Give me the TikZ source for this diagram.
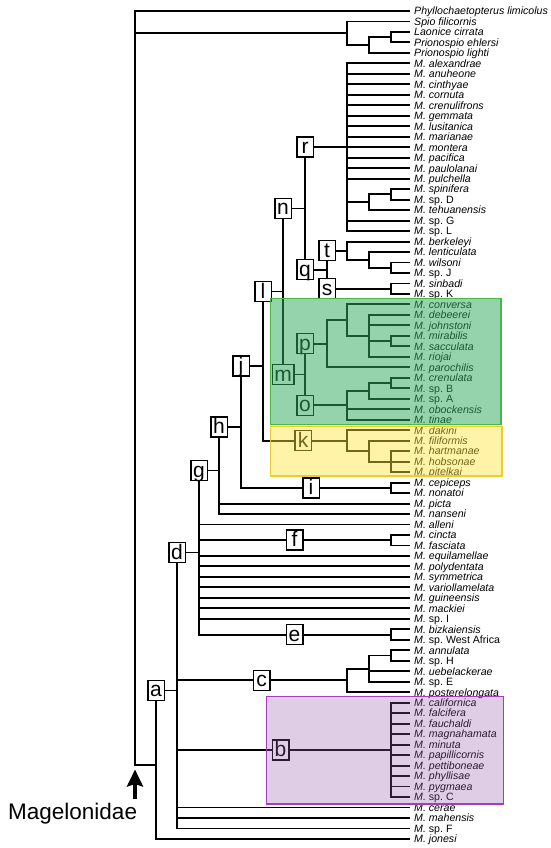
\documentclass[tikz,border=0pt]{standalone}
\usepackage{fontspec}
\setmainfont{Liberation Sans}
\usetikzlibrary{calc,arrows.meta}
\definecolor{grfill}{RGB}{50,170,95}
\definecolor{grline}{RGB}{70,185,70}
\definecolor{yefill}{RGB}{255,228,60}
\definecolor{yeline}{RGB}{235,205,50}
\definecolor{pufill}{RGB}{150,90,170}
\definecolor{puline}{RGB}{165,60,185}
\newcommand\Mi[1]{\textit{M. #1}}
\newcommand\Ms[1]{\textit{M.} sp.~#1}
\newcommand\cladeN[4]{%
  \draw[br] (#1 |- #2) -- (#1 |- #3);
  \foreach \c in {#4}{\draw[br] (#1 |- \c) -- (\c);}%
}
\begin{document}
\begin{tikzpicture}[x=1pt,y=-1pt,
  br/.style={line width=1.9pt, line cap=rect},
  leaf/.style={anchor=base west, inner sep=0pt, font=\fontsize{10.6}{11}\selectfont},
  lbl/.style={draw, fill=white, line width=1.5pt, font=\fontsize{21}{21}\selectfont,
    inner xsep=2pt, inner ysep=1pt, text height=15.5pt, text depth=2.5pt,
    minimum width=16.5pt, minimum height=20pt}]
\useasboundingbox (0,0) rectangle (550,848);

% leaves
\foreach \i/\t in {
1/{\textit{Phyllochaetopterus limicolus}},
2/{\textit{Spio filicornis}},
3/{\textit{Laonice cirrata}},
4/{\textit{Prionospio ehlersi}},
5/{\textit{Prionospio lighti}},
6/\Mi{alexandrae},
7/\Mi{anuheone},
8/\Mi{cinthyae},
9/\Mi{cornuta},
10/\Mi{crenulifrons},
11/\Mi{gemmata},
12/\Mi{lusitanica},
13/\Mi{marianae},
14/\Mi{montera},
15/\Mi{pacifica},
16/\Mi{paulolanai},
17/\Mi{pulchella},
18/\Mi{spinifera},
19/\Ms{D},
20/\Mi{tehuanensis},
21/\Ms{G},
22/\Ms{L},
23/\Mi{berkeleyi},
24/\Mi{lenticulata},
25/\Mi{wilsoni},
26/\Ms{J},
27/\Mi{sinbadi},
28/\Ms{K},
29/\Mi{conversa},
30/\Mi{debeerei},
31/\Mi{johnstoni},
32/\Mi{mirabilis},
33/\Mi{sacculata},
34/\Mi{riojai},
35/\Mi{parochilis},
36/\Mi{crenulata},
37/\Ms{B},
38/\Ms{A},
39/\Mi{obockensis},
40/\Mi{tinae},
41/\Mi{dakini},
42/\Mi{filiformis},
43/\Mi{hartmanae},
44/\Mi{hobsonae},
45/\Mi{pitelkai},
46/\Mi{cepiceps},
47/\Mi{nonatoi},
48/\Mi{picta},
49/\Mi{nanseni},
50/\Mi{alleni},
51/\Mi{cincta},
52/\Mi{fasciata},
53/\Mi{equilamellae},
54/\Mi{polydentata},
55/\Mi{symmetrica},
56/\Mi{variollamelata},
57/\Mi{guineensis},
58/\Mi{mackiei},
59/\Ms{I},
60/\Mi{bizkaiensis},
61/\Ms{West Africa},
62/\Mi{annulata},
63/\Ms{H},
64/\Mi{uebelackerae},
65/\Ms{E},
66/\Mi{posterelongata},
67/\Mi{californica},
68/\Mi{falcifera},
69/\Mi{fauchaldi},
70/\Mi{magnahamata},
71/\Mi{minuta},
72/\Mi{papillicornis},
73/\Mi{pettiboneae},
74/\Mi{phyllisae},
75/\Mi{pygmaea},
76/\Ms{C},
77/\Mi{cerae},
78/\Mi{mahensis},
79/\Ms{F},
80/\Mi{jonesi}}{
  \pgfmathsetmacro\yy{11+(\i-1)*10.48}
  \coordinate (L\i) at (409,\yy);
  \node[leaf] (T\i) at (414,\yy+3.8) {\t};
}

% internal nodes
\coordinate (S3) at (391,37.20);
\coordinate (S2) at (369,45.06);
\coordinate (S1) at (347,33.27);
\coordinate (R4) at (391,194.40);
\coordinate (R3) at (369,202.26);
\coordinate (Nr) at (347,147.24);
\coordinate (T3) at (391,267.76);
\coordinate (T2) at (369,259.90);
\coordinate (Nt) at (347,250.73);
\coordinate (Ns) at (391,288.72);
\coordinate (Nq) at (327,269.73);
\coordinate (Nn) at (305,208.48);
\coordinate (P4) at (391,341.12);
\coordinate (P3) at (369,335.88);
\coordinate (P2) at (347,320.16);
\coordinate (Np) at (327,343.74);
\coordinate (O3) at (391,383.04);
\coordinate (O2) at (369,390.90);
\coordinate (No) at (347,405.31);
\coordinate (Nm) at (305,374.53);
\coordinate (Nl) at (283,291.50);
\coordinate (K3) at (391,461.64);
\coordinate (K2) at (369,451.16);
\coordinate (Nk) at (347,440.68);
\coordinate (Nj) at (263,366.09);
\coordinate (Ni) at (391,487.84);
\coordinate (Nh) at (241,426.97);
\coordinate (Ng) at (219,470.50);
\coordinate (Nf) at (391,540.24);
\coordinate (Ne) at (391,634.56);
\coordinate (Nd) at (199,552.53);
\coordinate (C3) at (391,655.52);
\coordinate (C2) at (369,668.62);
\coordinate (Nc) at (347,680.41);
\coordinate (Nb) at (391,749.84);
\coordinate (NA) at (177,690.49);
\coordinate (Na) at (156,764.70);
\coordinate (Nroot) at (135,387.85);

% branches
\cladeN{S3}{L3}{L4}{L3,L4}
\cladeN{S2}{S3}{L5}{S3,L5}
\cladeN{S1}{L2}{S2}{L2,S2}
\cladeN{R4}{L18}{L19}{L18,L19}
\cladeN{R3}{R4}{L20}{R4,L20}
\cladeN{Nr}{L6}{L22}{L6,L7,L8,L9,L10,L11,L12,L13,L14,L15,L16,L17,R3,L21,L22}
\cladeN{T3}{L25}{L26}{L25,L26}
\cladeN{T2}{L24}{T3}{L24,T3}
\cladeN{Nt}{L23}{T2}{L23,T2}
\cladeN{Ns}{L27}{L28}{L27,L28}
\cladeN{Nq}{Nt}{Ns}{Nt,Ns}
\cladeN{Nn}{Nr}{Nq}{Nr,Nq}
\cladeN{P4}{L32}{L33}{L32,L33}
\cladeN{P3}{L30}{L34}{L30,L31,P4,L34}
\cladeN{P2}{L29}{P3}{L29,P3}
\cladeN{Np}{P2}{L35}{P2,L35}
\cladeN{O3}{L36}{L37}{L36,L37}
\cladeN{O2}{O3}{L38}{O3,L38}
\cladeN{No}{O2}{L40}{O2,L39,L40}
\cladeN{Nm}{Np}{No}{Np,No}
\cladeN{Nl}{Nn}{Nm}{Nn,Nm}
\cladeN{K3}{L43}{L45}{L43,L44,L45}
\cladeN{K2}{L42}{K3}{L42,K3}
\cladeN{Nk}{L41}{K2}{L41,K2}
\cladeN{Nj}{Nl}{Nk}{Nl,Nk}
\cladeN{Ni}{L46}{L47}{L46,L47}
\cladeN{Nh}{Nj}{Ni}{Nj,Ni}
\cladeN{Ng}{Nh}{L49}{Nh,L48,L49}
\cladeN{Nf}{L51}{L52}{L51,L52}
\cladeN{Ne}{L60}{L61}{L60,L61}
\cladeN{Nd}{Ng}{Ne}{Ng,L50,Nf,L53,L54,L55,L56,L57,L58,L59,Ne}
\cladeN{C3}{L62}{L63}{L62,L63}
\cladeN{C2}{C3}{L65}{C3,L64,L65}
\cladeN{Nc}{C2}{L66}{C2,L66}
\cladeN{Nb}{L67}{L76}{L67,L68,L69,L70,L71,L72,L73,L74,L75,L76}
\cladeN{NA}{Nd}{L79}{Nd,Nc,Nb,L77,L78,L79}
\cladeN{Na}{NA}{L80}{NA,L80}
\cladeN{Nroot}{L1}{Na}{L1,S1,Na}

% clade labels
\node[lbl] (bxa) at (Na |- NA) {a};
\node[lbl] (bxd) at (NA |- Nd) {d};
\node[lbl] (bxg) at (Nd |- Ng) {g};
\node[lbl] (bxh) at (Ng |- Nh) {h};
\node[lbl] (bxj) at (Nh |- Nj) {j};
\node[lbl] (bxl) at (Nj |- Nl) {l};
\node[lbl] (bxn) at (Nl |- Nn) {n};
\node[lbl] (bxm) at (Nl |- Nm) {m};
\node[lbl] (bxr) at (Nn |- Nr) {r};
\node[lbl] (bxq) at (Nn |- Nq) {q};
\node[lbl] (bxt) at (Nq |- Nt) {t};
\node[lbl] (bxs) at (Nq |- Ns) {s};
\node[lbl] (bxp) at (Nm |- Np) {p};
\node[lbl] (bxo) at (Nm |- No) {o};
\node[lbl] (bxk) at (303,440.68) {k};
\node[lbl] (bxi) at (311,487.84) {i};
\node[lbl] (bxf) at (294.5,540.24) {f};
\node[lbl] (bxe) at (294.5,634.56) {e};
\node[lbl] (bxc) at (261.5,680.41) {c};
\node[lbl] (bxb) at (280.5,749.84) {b};

% Magelonidae label and arrow
\node[anchor=base west, inner sep=0pt, font=\fontsize{22.5}{22.5}\selectfont] (mag) at (8,819) {Magelonidae};
\coordinate (arrbase) at (135,799);
\coordinate (arrtip) at (135,769.5);
\draw[line width=4.5pt, -{Stealth[length=17pt,width=16pt,inset=2.5pt]}] (arrbase) -- (arrtip);

% coloured highlight boxes
\fill[grfill, fill opacity=0.52] (270.7,298.3) rectangle (501,424.5);
\draw[grline, line width=1.3pt] (270.7,298.3) rectangle (501,424.5);
\fill[yefill, fill opacity=0.45] (270.7,426.2) rectangle (502,476);
\draw[yeline, line width=1.3pt] (270.7,426.2) rectangle (502,476);
\fill[pufill, fill opacity=0.3] (266.7,696.7) rectangle (503.3,804);
\draw[puline, line width=1.3pt] (266.7,696.7) rectangle (503.3,804);
\end{tikzpicture}
\end{document}
